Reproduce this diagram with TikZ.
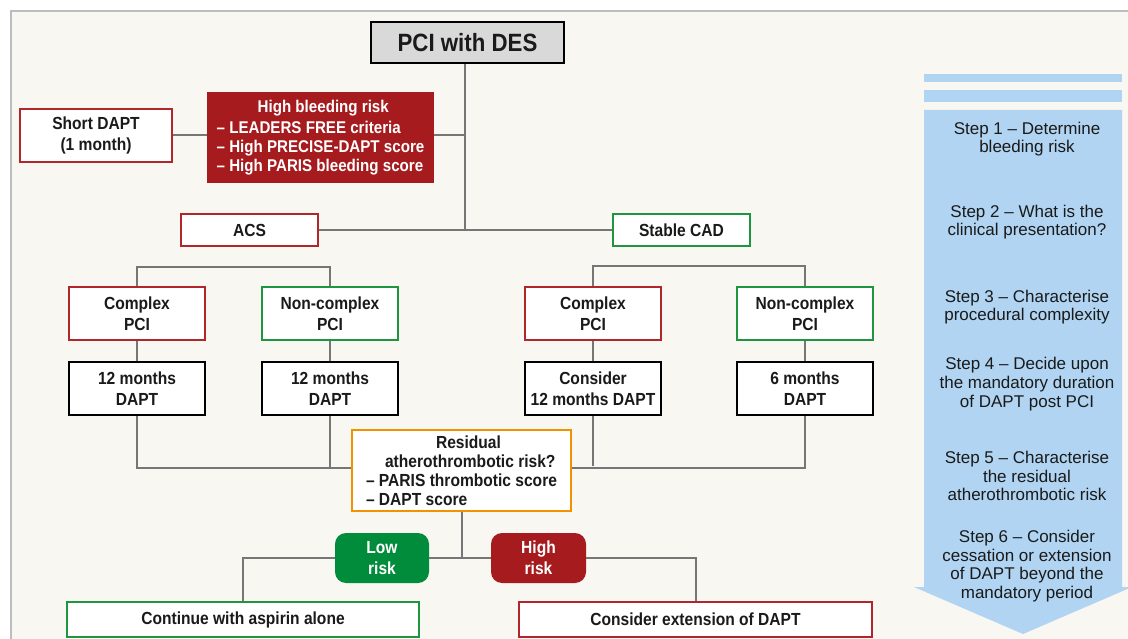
\documentclass[tikz,border=0pt]{standalone}
\usepackage{fontspec}
\setmainfont{Liberation Sans}[FakeStretch=0.89]
\newfontfamily\stepfont{Liberation Sans}
\definecolor{cream}{HTML}{F8F7F2}
\definecolor{panelline}{HTML}{BDBDBD}
\definecolor{dred}{HTML}{A61B1E}
\definecolor{bred}{HTML}{B0262B}
\definecolor{bgreen}{HTML}{1E9640}
\definecolor{fgreen}{HTML}{008C3A}
\definecolor{orng}{HTML}{F39200}
\definecolor{lblue}{HTML}{B0D4F1}
\definecolor{conn}{HTML}{767676}
\definecolor{txt}{HTML}{1A1A1A}
\definecolor{pcigray}{HTML}{D9D9D9}
\newcommand{\lblfont}{\fontsize{17.5}{21}\selectfont\bfseries}
\tikzset{
  box/.style={draw, line width=2pt, fill=white, inner sep=0pt, align=center, text=txt, font=\lblfont},
  redbox/.style={box, draw=bred},
  greenbox/.style={box, draw=bgreen},
  blackbox/.style={box, draw=black, line width=2.5pt},
  riskbox/.style={inner sep=0pt, rounded corners=11pt, text=white, align=center, font=\lblfont},
  conn/.style={draw=conn, line width=2pt},
  steptext/.style={align=center, text=txt, font=\stepfont\fontsize{17}{18.7}\selectfont}
}
\begin{document}
\begin{tikzpicture}[x=1pt,y=-1pt]
\useasboundingbox (0,0) rectangle (1128,639);
\clip (0,0) rectangle (1128,639);
% panel
\fill[cream] (11,11) rectangle (1130,641);
\draw[panelline, line width=1.2pt] (11,641) -- (11,11) -- (1130,11);

% blue step arrow
\fill[lblue] (924,74) rectangle (1122,82);
\fill[lblue] (924,90) rectangle (1122,102);
\fill[lblue] (924,110) -- (1122,110) -- (1122,587) -- (1132,587) -- (1023,634) -- (914,587) -- (924,587) -- cycle;
\node[steptext] (s1) at (1027,139) {Step 1 – Determine\\bleeding risk};
\node[steptext] (s2) at (1027,222) {Step 2 – What is the\\clinical presentation?};
\node[steptext] (s3) at (1027,307) {Step 3 – Characterise\\procedural complexity};
\node[steptext] (s4) at (1027,384) {Step 4 – Decide upon\\the mandatory duration\\of DAPT post PCI};
\node[steptext] (s5) at (1027,476) {Step 5 – Characterise\\the residual\\atherothrombotic risk};
\node[steptext] (s6) at (1027,566) {Step 6 – Consider\\cessation or extension\\of DAPT beyond the\\mandatory period};

% nodes
\node[blackbox, fill=pcigray, minimum width=193pt, minimum height=41pt, font=\fontsize{25}{28}\selectfont\bfseries] (pci) at (467.5,42.5) {PCI with DES};
\node[redbox, minimum width=152pt, minimum height=53pt] (sd) at (96,135.5) {Short DAPT\\(1 month)};
\node[fill=dred, text=white, inner sep=0pt, minimum width=227pt, minimum height=91pt, align=left, font=\fontsize{17}{19}\selectfont\bfseries] (hbr) at (320.5,137.5)
  {\hspace*{41pt}High bleeding risk\\[2pt]– LEADERS FREE criteria\\– High PRECISE-DAPT score\\– High PARIS bleeding score};
\node[redbox, minimum width=137pt, minimum height=32pt] (acs) at (249.5,230) {ACS};
\node[greenbox, minimum width=137pt, minimum height=32pt] (scad) at (681.5,230) {Stable CAD};

\node[redbox, minimum width=136pt, minimum height=53pt] (cx1) at (137,313.5) {Complex\\PCI};
\node[greenbox, minimum width=136pt, minimum height=53pt] (nc1) at (330,313.5) {Non-complex\\PCI};
\node[redbox, minimum width=136pt, minimum height=53pt] (cx2) at (593,313.5) {Complex\\PCI};
\node[greenbox, minimum width=136pt, minimum height=53pt] (nc2) at (805,313.5) {Non-complex\\PCI};

\node[blackbox, minimum width=136pt, minimum height=53pt] (m1) at (137,388.5) {12 months\\DAPT};
\node[blackbox, minimum width=136pt, minimum height=53pt] (m2) at (330,388.5) {12 months\\DAPT};
\node[blackbox, minimum width=136pt, minimum height=53pt] (m3) at (593,388.5) {Consider\\12 months DAPT};
\node[blackbox, minimum width=136pt, minimum height=53pt] (m4) at (805,388.5) {6 months\\DAPT};

\node[box, draw=orng, minimum width=219pt, minimum height=81pt, align=left, font=\fontsize{17.5}{19}\selectfont\bfseries] (res) at (461.5,470.5)
  {\hspace*{70pt}Residual\\\hspace*{19pt}atherothrombotic risk?\\– PARIS thrombotic score\\– DAPT score};

\node[riskbox, fill=fgreen, minimum width=94pt, minimum height=50pt] (low) at (382,558) {Low\\risk};
\node[riskbox, fill=dred, minimum width=95pt, minimum height=50pt] (high) at (538.5,558) {High\\risk};

\node[greenbox, minimum width=352pt, minimum height=35pt] (cont) at (243,619.5) {Continue with aspirin alone};
\node[redbox, minimum width=353pt, minimum height=35pt] (ext) at (695.5,619.5) {Consider extension of DAPT};

% junction coordinates
\coordinate (j1) at (465,230);
\coordinate (lb) at (0,267);
\coordinate (rb) at (0,266);
\coordinate (bt) at (0,468);

% connectors
\draw[conn] (pci.south -| j1) -- (j1);
\draw[conn] (acs.east) -- (scad.west);
\draw[conn] (sd.east) -- (sd.east -| hbr.west);
\draw[conn] (sd.east -| hbr.east) -- (sd.east -| j1);
\draw[conn] (cx1.north) -- (cx1.north |- lb) -- (nc1.north |- lb) -- (nc1.north);
\draw[conn] (cx2.north) -- (cx2.north |- rb) -- (nc2.north |- rb) -- (nc2.north);
\draw[conn] (cx1.south) -- (m1.north);
\draw[conn] (nc1.south) -- (m2.north);
\draw[conn] (cx2.south) -- (m3.north);
\draw[conn] (nc2.south) -- (m4.north);
\draw[conn] (m1.south) -- (m1.south |- bt) -- (res.west |- bt);
\draw[conn] (m2.south) -- (m2.south |- bt);
\draw[conn] (m3.south) -- ([yshift=2pt]m3.south |- bt);
\draw[conn] (res.east |- bt) -- (m4.south |- bt) -- (m4.south);
\draw[conn] (res.south) -- (res.south |- low.east);
\draw[conn] (cont.north) |- (low.west);
\draw[conn] (low.east) -- (high.west);
\draw[conn] (high.east) -| (ext.north);
\end{tikzpicture}
\end{document}
